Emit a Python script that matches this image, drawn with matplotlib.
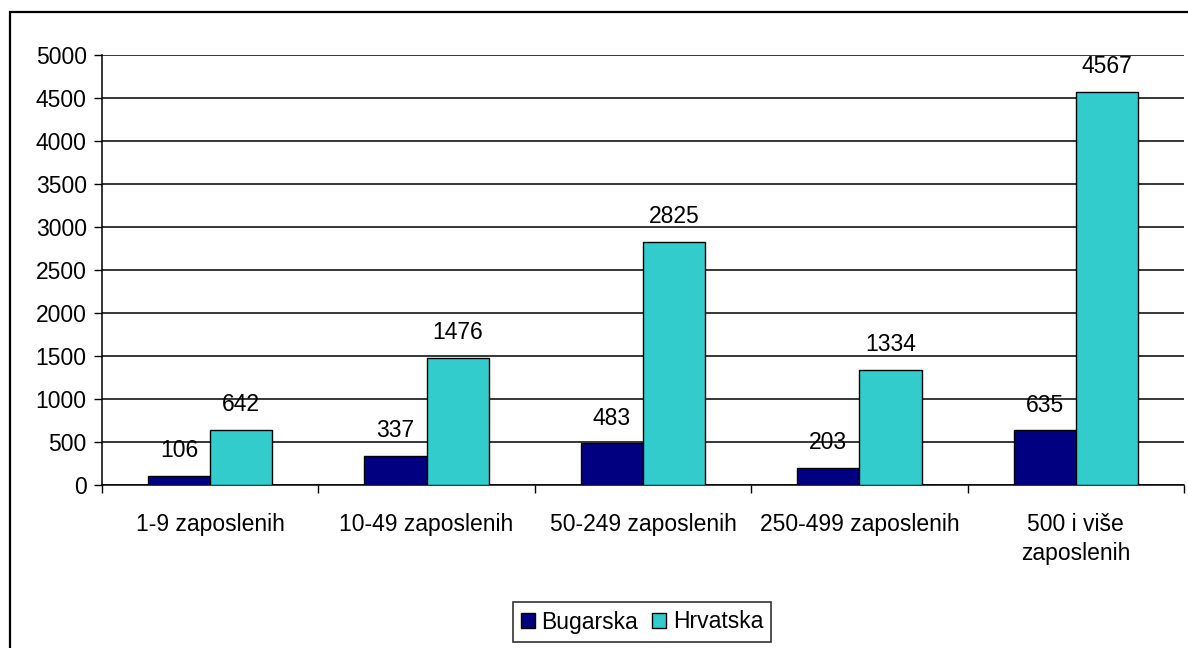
import matplotlib
matplotlib.use("Agg")
import matplotlib.pyplot as plt
from matplotlib.patches import Rectangle
import numpy as np

categories = ["1-9 zaposlenih", "10-49 zaposlenih", "50-249 zaposlenih",
              "250-499 zaposlenih", "500 i više\nzaposlenih"]
bugarska = [106, 337, 483, 203, 635]
hrvatska = [642, 1476, 2825, 1334, 4567]
series_names = ["Bugarska", "Hrvatska"]
yticks = [0, 500, 1000, 1500, 2000, 2500, 3000, 3500, 4000, 4500, 5000]

plt.rcParams['font.family'] = ['Liberation Sans', 'DejaVu Sans']
FS = 16.5
W, H = 1188, 648
fig = plt.figure(figsize=(W/100, H/100), dpi=100)

# outer chart frame
fig.patches.append(Rectangle((10/W, -0.1), 1.2, (H-12)/H + 0.1, transform=fig.transFigure,
                             fill=False, edgecolor='black', linewidth=1.6, zorder=0))

ax = fig.add_axes([102/W, 1-485/H, (1184-102)/W, (485-55)/H])
x = np.arange(len(categories))
bw = 0.287
b1 = ax.bar(x - bw/2, bugarska, bw, color='#000080', edgecolor='black', linewidth=1.0,
            label=series_names[0], zorder=3)
b2 = ax.bar(x + bw/2, hrvatska, bw, color='#33CCCC', edgecolor='black', linewidth=1.0,
            label=series_names[1], zorder=3)
for bars in (b1, b2):
    for r in bars:
        ax.annotate(f"{int(r.get_height())}", (r.get_x() + r.get_width()/2, r.get_height()),
                    xytext=(0, 10), textcoords='offset points', ha='center', va='bottom',
                    fontsize=FS, zorder=4)

ax.set_xlim(-0.5, len(categories) - 0.5)
ax.set_ylim(0, 5000)
ax.set_yticks(yticks)
ax.yaxis.grid(True, color='black', linewidth=1.1)
ax.set_axisbelow(True)
ax.tick_params(axis='y', labelsize=FS, length=6, width=1.0, pad=5)
ax.set_xticks(np.arange(len(categories) + 1) - 0.5, minor=False)
ax.set_xticklabels([])
ax.set_xticks(x, minor=True)
ax.set_xticklabels(categories, minor=True, fontsize=FS, linespacing=1.35)
ax.tick_params(axis='x', which='major', length=6, width=1.0)
ax.tick_params(axis='x', which='minor', length=0, pad=20)
for s in ('top', 'right'):
    ax.spines[s].set_visible(False)
for s in ('left', 'bottom'):
    ax.spines[s].set_linewidth(1.1)

leg = fig.legend(handles=[b1, b2], loc='center', bbox_to_anchor=(642/W, 1-622/H), ncol=2,
                 fontsize=FS, frameon=True, fancybox=False, edgecolor='black',
                 handlelength=0.6, handleheight=0.6, handletextpad=0.3, columnspacing=0.6,
                 borderpad=0.35)
leg.get_frame().set_linewidth(1.2)

fig.savefig("out.png", dpi=100, facecolor='white')
